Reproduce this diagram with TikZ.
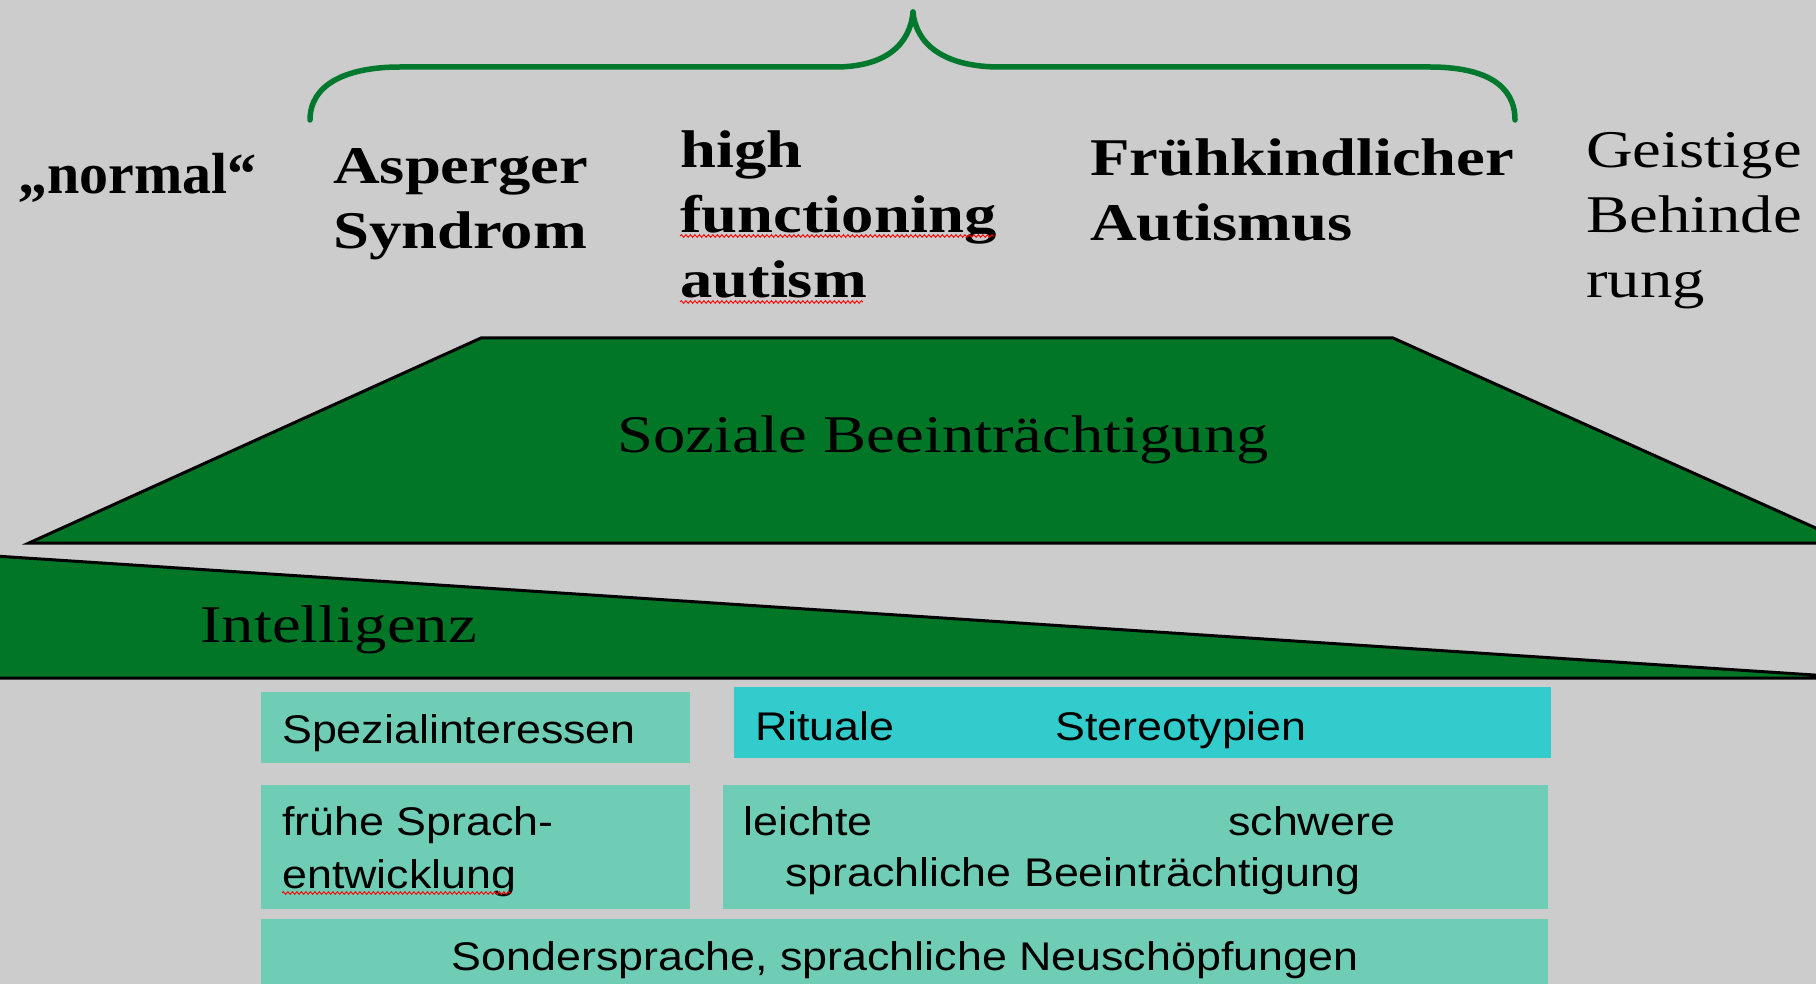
\documentclass[tikz,border=0pt]{standalone}
\usepackage{fontspec}
\usetikzlibrary{decorations.pathmorphing}
\newfontfamily\stretchserif[FakeStretch=1.22]{Liberation Serif}
\newfontfamily\plainserif{Liberation Serif}
\newfontfamily\stretchsans[FakeStretch=1.12]{Liberation Sans}
\definecolor{chartgrey}{HTML}{CCCCCC}
\definecolor{chartgreen}{HTML}{007626}
\definecolor{bracegreen}{HTML}{00782E}
\definecolor{boxteal}{HTML}{6ECDB4}
\definecolor{boxcyan}{HTML}{33CCCC}

\begin{document}
\begin{tikzpicture}[x=1pt, y=-1pt,
  grp/.style={font=\stretchserif\bfseries\fontsize{53}{65}\selectfont, align=left, anchor=base west, inner sep=0pt},
  grpplain/.style={grp, font=\stretchserif\fontsize{53}{65}\selectfont},
  band/.style={fill=chartgreen, draw=black, line width=3pt, line join=miter},
  bandlabel/.style={font=\stretchserif\fontsize{53}{65}\selectfont, anchor=base west, inner sep=0pt},
  tealbox/.style={fill=boxteal},
  cyanbox/.style={fill=boxcyan},
  boxlabel/.style={font=\stretchsans\fontsize{40}{53}\selectfont, anchor=base west, inner sep=0pt},
  spell/.style={draw=red, line width=0.9pt, decorate, decoration={snake, amplitude=1.3pt, segment length=4.5pt}}
]
\useasboundingbox (0,0) rectangle (1816,984);
\clip (0,0) rectangle (1816,984);
\fill[chartgrey] (0,0) rectangle (1816,984);

% brace over the autism spectrum
\draw[bracegreen, line width=5.5pt, line cap=round] (310,120) .. controls (310,85) and (345,67) .. (400,67) -- (835,67) .. controls (885,67) and (910,45) .. (913,12);
\draw[bracegreen, line width=5.5pt, line cap=round] (913,12) .. controls (916,45) and (945,67) .. (1000,67) -- (1430,67) .. controls (1485,67) and (1515,85) .. (1515,120);

% group labels (multi-line: base = last line)
\node[grp, font=\plainserif\bfseries\fontsize{58}{65}\selectfont] (normal) at (18,194) {„normal“};
\node[grp] (asperger) at (333,249) {Asperger\\Syndrom};
\node[grp] (hfa) at (680,298) {high\\functioning\\autism};
\node[grp] (fruehk) at (1090,241) {Frühkindlicher\\Autismus};
\node[grpplain] (geistig) at (1586,298) {Geistige\\Behinde\\rung};
\draw[spell] (680,236) -- (995,236);
\draw[spell] (680,302) -- (863,302);

% bands
\draw[band] (29,543) -- (481,338) -- (1393,338) -- (1849,543) -- cycle;
\node[bandlabel, anchor=base] (soziale) at (943,452) {Soziale Beeinträchtigung};
\draw[band] (-5,556) -- (1860,678) -- (-5,678) -- cycle;
\node[bandlabel] (intell) at (200,642) {Intelligenz};

% symptom boxes
\fill[tealbox] (261,692) rectangle (690,763);
\fill[cyanbox] (734,687) rectangle (1551,758);
\fill[tealbox] (261,785) rectangle (690,909);
\fill[tealbox] (723,785) rectangle (1548,909);
\fill[tealbox] (261,919) rectangle (1548,1000);

\node[boxlabel] (spez) at (282,743) {Spezialinteressen};
\node[boxlabel] (ritual) at (755,740) {Rituale};
\node[boxlabel] (stereo) at (1055,740) {Stereotypien};
\node[boxlabel, align=left] (fruehe) at (282,888) {frühe Sprach-\\entwicklung};
\draw[spell] (282,893) -- (511,893);
\node[boxlabel] (leicht) at (743,835) {leichte};
\node[boxlabel] (schwer) at (1228,835) {schwere};
\node[boxlabel] (sprachl) at (785,886) {sprachliche Beeinträchtigung};
\node[boxlabel, anchor=base] (sonder) at (905,970) {Sondersprache, sprachliche Neuschöpfungen};
\end{tikzpicture}
\end{document}
